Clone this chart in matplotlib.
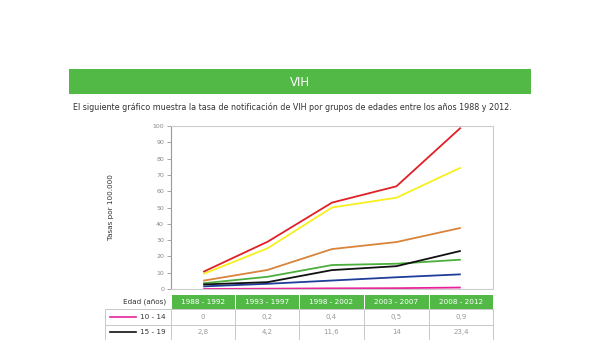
import matplotlib
matplotlib.use("Agg")
import matplotlib.pyplot as plt
from matplotlib.patches import Rectangle

# Periods (x categories) and notification rates per 100.000
periodos = ["1988 - 1992", "1993 - 1997", "1998 - 2002", "2003 - 2007", "2008 - 2012"]
tasa_10_14 = [0, 0.2, 0.4, 0.5, 0.9]
tasa_15_19 = [2.8, 4.2, 11.6, 14, 23.4]
tasa_roja = [10.5, 29, 53, 63, 99]
tasa_amarilla = [9.2, 25, 50, 56, 74.5]
tasa_naranja = [5.1, 11.7, 24.5, 28.8, 37.5]
tasa_verde = [3.5, 7.5, 14.7, 15.5, 18]
tasa_azul = [1.6, 3.2, 5.2, 7.2, 9]
yticks = list(range(0, 101, 10))

titulo = "VIH"
subtitulo = ("El siguiente gráfico muestra la tasa de notificación de VIH por grupos "
             "de edades entre los años 1988 y 2012.")
ylabel = "Tasas por 100.000"
tabla_filas = [("10 - 14", tasa_10_14, "#e8219a"), ("15 - 19", tasa_15_19, "#111111")]

W, H = 600, 340
fig = plt.figure(figsize=(W / 100, H / 100), dpi=100)
fig.patch.set_facecolor("white")

# full-figure canvas in pixel coordinates for banner, text and table
page = fig.add_axes([0, 0, 1, 1])
page.set_xlim(0, W)
page.set_ylim(H, 0)
page.axis("off")

verde = "#52b947"
page.add_patch(Rectangle((69, 69), 462, 25, facecolor=verde, edgecolor="none"))
page.text(300, 82, titulo, color="white", ha="center", va="center", fontsize=8.5,
          family="DejaVu Sans")
page.text(73, 107, subtitulo, color="#333333", ha="left", va="center", fontsize=5.75,
          family="DejaVu Sans")
page.text(111, 207, ylabel, color="#333333", ha="center", va="center", rotation=90,
          fontsize=5.2, family="DejaVu Sans")

# line chart
x0, x1, y0, y1 = 171, 493, 126, 289
ax = fig.add_axes([x0 / W, 1 - y1 / H, (x1 - x0) / W, (y1 - y0) / H])
xs = list(range(len(periodos)))
series = [
    (tasa_azul, "#1f3d99"),
    (tasa_10_14, "#e8219a"),
    (tasa_verde, "#4caf3c"),
    (tasa_15_19, "#111111"),
    (tasa_naranja, "#d9843a"),
    (tasa_amarilla, "#f7f01e"),
    (tasa_roja, "#e01f26"),
]
for vals, col in series:
    ax.plot(xs, vals, color=col, lw=1.3, solid_capstyle="butt")
ax.set_xlim(-0.5, len(periodos) - 0.5)
ax.set_ylim(0, 100)
ax.set_yticks(yticks)
ax.set_yticklabels([str(v) for v in yticks])
ax.set_xticks([])
ax.tick_params(axis="y", length=3, width=0.6, color="#999999", labelsize=4.5,
               labelcolor="#888888", pad=2)
for s in ax.spines.values():
    s.set_color("#cccccc")
    s.set_linewidth(0.8)
ax.spines["left"].set_color("#999999")

# table below the chart
cols = [171, 235, 299, 364, 429, 493]
hdr_top, hdr_bot = 295, 309
page.text(166, 302, "Edad (años)", ha="right", va="center", fontsize=5.2,
          color="#333333", family="DejaVu Sans")
for i, per in enumerate(periodos):
    page.add_patch(Rectangle((cols[i] + 0.5, hdr_top), cols[i + 1] - cols[i] - 1,
                             hdr_bot - hdr_top, facecolor=verde, edgecolor="none"))
    page.text((cols[i] + cols[i + 1]) / 2, (hdr_top + hdr_bot) / 2, per, ha="center",
              va="center", fontsize=5.2, color="white", family="DejaVu Sans")
row_h = 15.5
grid = "#c8c8c8"
for r, (lab, vals, col) in enumerate(tabla_filas):
    top = hdr_bot + r * row_h
    cy = top + row_h / 2
    page.add_patch(Rectangle((105, top), cols[-1] - 105, row_h, facecolor="none",
                             edgecolor=grid, lw=0.7))
    page.plot([110, 136], [cy, cy], color=col, lw=1.2)
    page.text(166, cy, lab, ha="right", va="center", fontsize=5.2, color="#333333",
              family="DejaVu Sans")
    for i, v in enumerate(vals):
        page.text((cols[i] + cols[i + 1]) / 2, cy, f"{v:g}".replace(".", ","),
                  ha="center", va="center", fontsize=5, color="#999999",
                  family="DejaVu Sans")
for c in cols:
    page.plot([c, c], [hdr_bot, hdr_bot + row_h * len(tabla_filas)], color=grid, lw=0.7)

fig.savefig("out.png", dpi=100, facecolor="white")
